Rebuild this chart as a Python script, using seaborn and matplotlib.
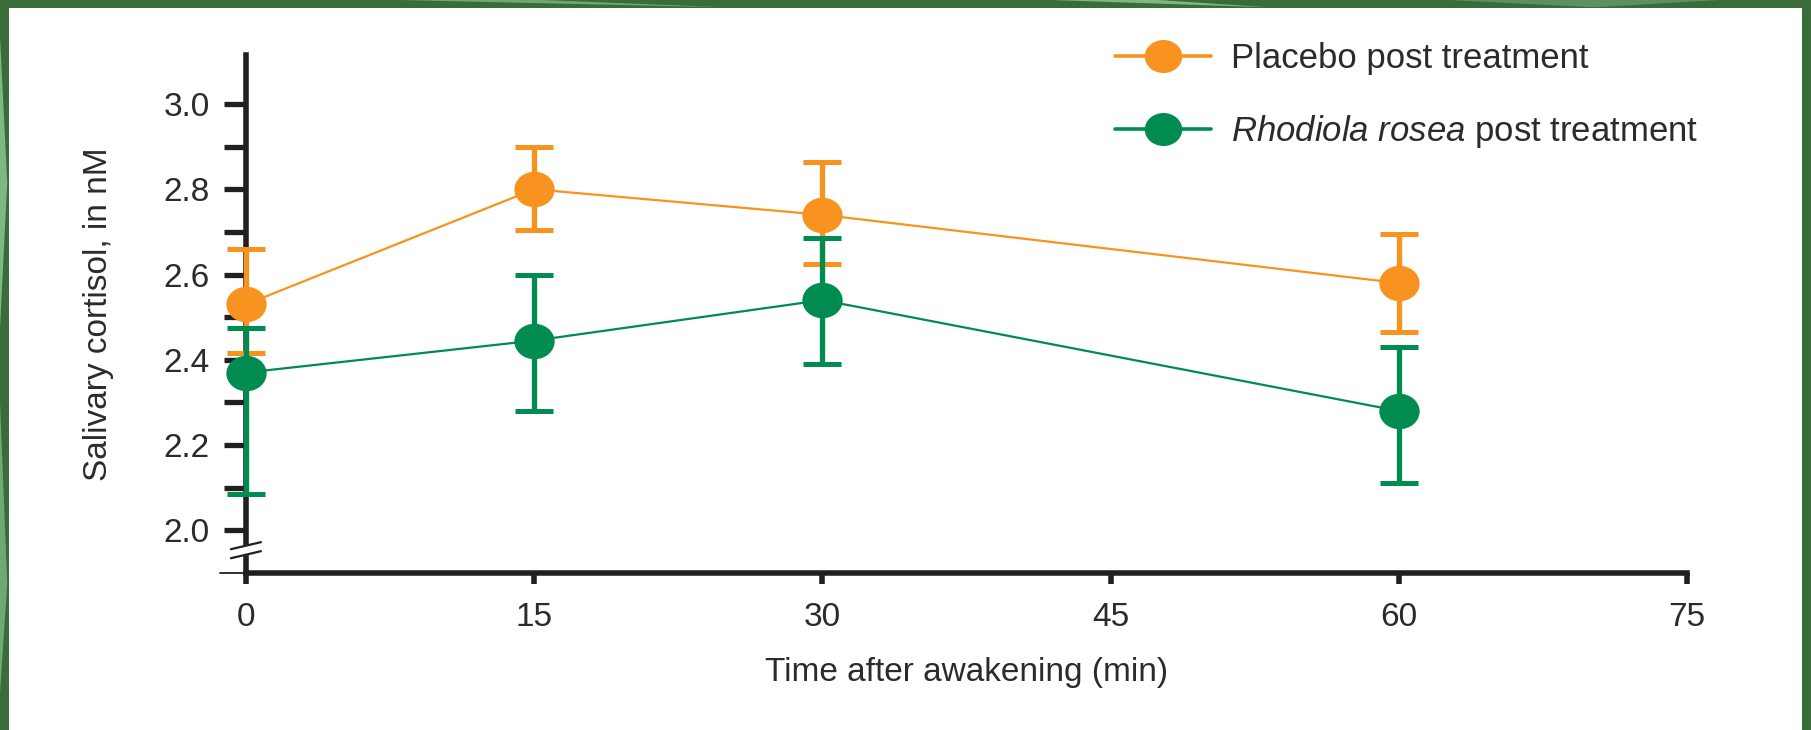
# Salivary cortisol after awakening: placebo vs Rhodiola rosea

import pandas as pd
import matplotlib.pyplot as plt
import seaborn as sns
from matplotlib.lines import Line2D
from matplotlib.patches import Rectangle, Polygon
from matplotlib.path import Path
from matplotlib.transforms import Affine2D

# -------------------------------
# Data
# -------------------------------
time_min = [0, 15, 30, 60]
placebo = [2.53, 2.80, 2.74, 2.58]
placebo_err_low = [0.115, 0.095, 0.115, 0.115]
placebo_err_high = [0.13, 0.10, 0.125, 0.115]
rhodiola = [2.37, 2.445, 2.54, 2.28]
rhodiola_err_low = [0.285, 0.165, 0.15, 0.17]
rhodiola_err_high = [0.105, 0.155, 0.145, 0.15]

series_names = ["Placebo post treatment", "Rhodiola rosea post treatment"]
x_ticks = [0, 15, 30, 45, 60, 75]
y_ticks = [2.0, 2.2, 2.4, 2.6, 2.8, 3.0]
y_minor = [2.1, 2.3, 2.5, 2.7, 2.9]

orange = "#F7931E"
green = "#008C50"
ink = "#231F20"
text_col = "#2B2B2B"
fs = 24

df = pd.DataFrame({
    "time": time_min * 2,
    "cortisol": placebo + rhodiola,
    "group": [series_names[0]] * 4 + [series_names[1]] * 4,
})

# slightly flattened dot, like the printed figure
dot = Affine2D().scale(1.0, 0.88).transform_path(Path.unit_circle())

# -------------------------------
# Style
# -------------------------------
sns.set_style("white")
plt.rcParams["font.family"] = ["Liberation Sans", "DejaVu Sans"]
plt.rcParams["mathtext.fontset"] = "custom"
plt.rcParams["mathtext.it"] = "Liberation Sans:italic"
plt.rcParams["mathtext.rm"] = "Liberation Sans"

fig = plt.figure(figsize=(18.11, 7.30), dpi=100, facecolor="#3A6B3A")

# leafy border + white card (kept behind the axes)
for pts, col in [
    ([(0.0, 0.55), (0.004, 0.75), (0.0, 0.95)], "#7DB87F"),
    ([(0.0, 0.05), (0.004, 0.2), (0.0, 0.45)], "#6FA872"),
    ([(0.22, 1.0), (0.40, 0.99), (0.30, 1.0)], "#6FA872"),
    ([(0.58, 1.0), (0.70, 0.99), (0.64, 1.0)], "#7DB87F"),
    ([(0.80, 1.0), (0.88, 0.99), (0.95, 1.0)], "#5E8F62"),
]:
    fig.patches.append(Polygon(pts, closed=True, transform=fig.transFigure,
                               facecolor=col, edgecolor="none", zorder=-3))
fig.patches.append(Rectangle((0.0047, 0.0), 0.9903, 0.9895, transform=fig.transFigure,
                             facecolor="white", edgecolor="none", zorder=-2))

ax = fig.add_axes([0.1358, 0.2151, 0.7957, 0.7096])
ax.set_facecolor("none")

# -------------------------------
# Lines + markers
# -------------------------------
sns.lineplot(data=df, x="time", y="cortisol", hue="group",
             palette={series_names[0]: orange, series_names[1]: green},
             marker=dot, markersize=29, markeredgewidth=0, linewidth=1.6,
             legend=False, ax=ax, clip_on=False, zorder=4)

ax.errorbar(time_min, placebo, yerr=[placebo_err_low, placebo_err_high], fmt="none",
            ecolor=orange, elinewidth=3.8, capsize=14, capthick=3.6, clip_on=False, zorder=3)
ax.errorbar(time_min, rhodiola, yerr=[rhodiola_err_low, rhodiola_err_high], fmt="none",
            ecolor=green, elinewidth=3.8, capsize=14, capthick=3.6, clip_on=False, zorder=3)

# -------------------------------
# Axes
# -------------------------------
ax.set_xlim(0, 75)
ax.set_ylim(1.9, 3.115)
ax.set_xticks(x_ticks)
ax.set_yticks(y_ticks)
ax.set_yticks(y_minor, minor=True)
ax.set_yticklabels([f"{v:.1f}" for v in y_ticks])

for side in ["top", "right"]:
    ax.spines[side].set_visible(False)
for side in ["left", "bottom"]:
    ax.spines[side].set_linewidth(4.0)
    ax.spines[side].set_color(ink)
    ax.spines[side].set_zorder(2)

ax.tick_params(axis="y", which="both", direction="out", length=16, width=3.8,
               color=ink, labelsize=fs, labelcolor=text_col, pad=10, left=True)
ax.tick_params(axis="x", direction="out", length=8, width=4.0, color=ink,
               labelsize=fs, labelcolor=text_col, pad=13, bottom=True)

ax.set_xlabel("Time after awakening (min)", fontsize=fs, color=text_col, labelpad=17)
ax.set_ylabel("Salivary cortisol, in nM", fontsize=fs, color=text_col, labelpad=36)

# thin stub of the x axis left of the y axis
ax.plot([-0.018, 0.0], [0.0, 0.0], color=ink, lw=1.3, transform=ax.transAxes,
        clip_on=False, zorder=1)

# axis break on y
bx, by, dx, dy, gap = 0.0, 0.044, 0.0104, 0.0068, 0.0174
ax.fill([bx - dx, bx + dx, bx + dx, bx - dx],
        [by - dy - gap / 2, by + dy - gap / 2, by + dy + gap / 2, by - dy + gap / 2],
        color="white", transform=ax.transAxes, clip_on=False, zorder=5)
for off in (-gap / 2, gap / 2):
    ax.plot([bx - dx, bx + dx], [by - dy + off, by + dy + off], color=ink, lw=1.6,
            transform=ax.transAxes, clip_on=False, zorder=6)

# -------------------------------
# Legend
# -------------------------------
handles = [
    Line2D([], [], color=orange, marker=dot, markersize=27, linewidth=2.6, markeredgewidth=0),
    Line2D([], [], color=green, marker=dot, markersize=27, linewidth=2.6, markeredgewidth=0),
]
labels = ["Placebo post treatment", r"$\it{Rhodiola\ rosea}$ post treatment"]
leg = fig.legend(handles, labels, loc="center left", bbox_to_anchor=(0.6157, 0.868),
                 bbox_transform=fig.transFigure, frameon=False, fontsize=25,
                 handlelength=2.75, handletextpad=0.6, labelspacing=1.1,
                 borderpad=0, borderaxespad=0)
for t in leg.get_texts():
    t.set_color(text_col)

fig.savefig("out.png", dpi=100, facecolor=fig.get_facecolor())
